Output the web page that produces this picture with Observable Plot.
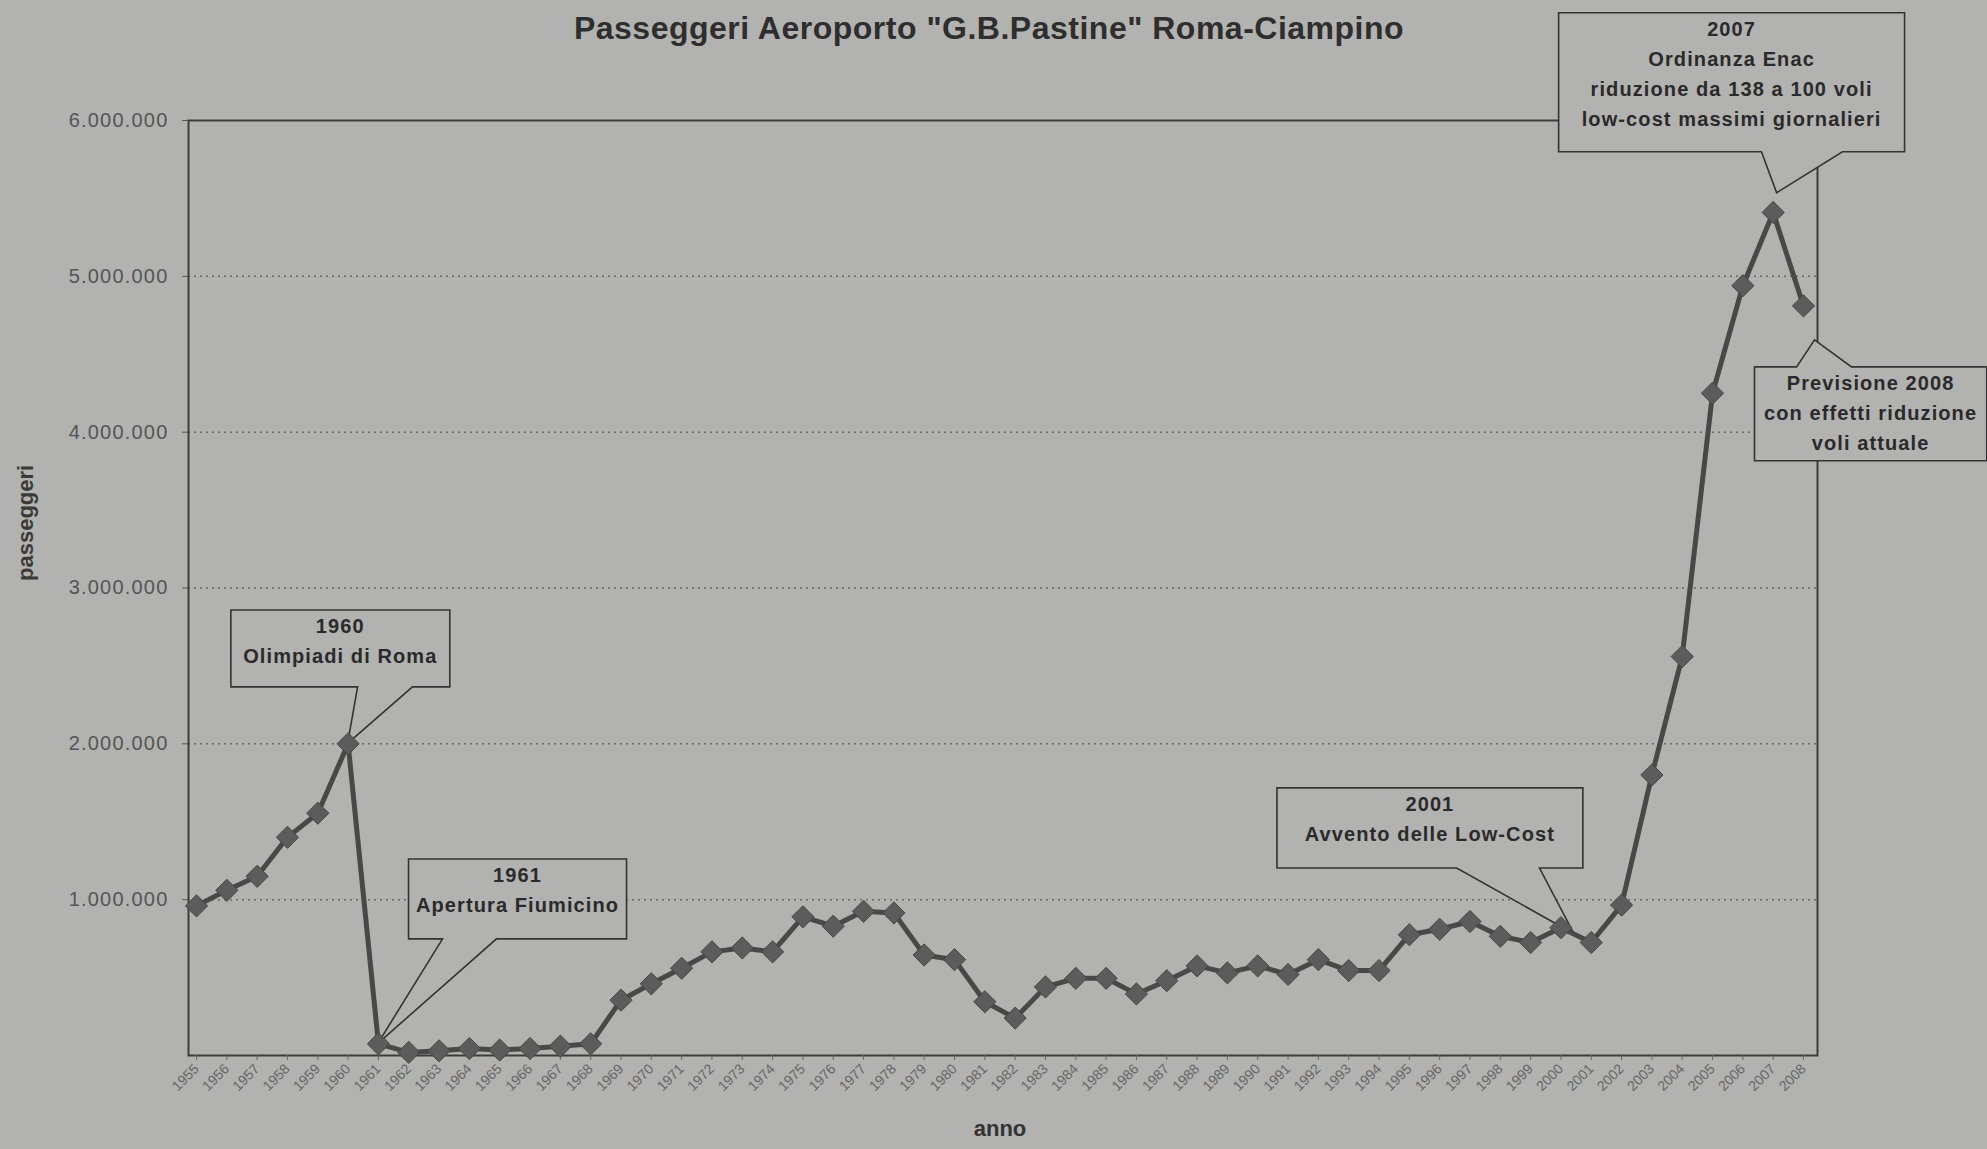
<!DOCTYPE html>
<html><head><meta charset="utf-8">
<script src="https://cdn.jsdelivr.net/npm/d3@7"></script>
<script src="https://cdn.jsdelivr.net/npm/@observablehq/plot@0.6"></script>
<style>
html,body{margin:0;padding:0;background:#b2b2b0;}
body{width:1987px;height:1149px;overflow:hidden;font-family:"Liberation Sans",Arial,sans-serif;}
#title{height:46px;box-sizing:border-box;padding-top:10px;line-height:36px;font-size:32px;font-weight:bold;text-align:center;color:#2e2e2e;letter-spacing:0.5px;padding-right:9px;white-space:nowrap;}
#chart svg g[aria-label="y-axis tick label"]{letter-spacing:1.2px;}
</style></head><body>
<div id="title">Passeggeri Aeroporto "G.B.Pastine" Roma-Ciampino</div>
<div id="chart"></div>
<script>
// ---- data ----
const years = [1955,1956,1957,1958,1959,1960,1961,1962,1963,1964,
  1965,1966,1967,1968,1969,1970,1971,1972,1973,1974,
  1975,1976,1977,1978,1979,1980,1981,1982,1983,1984,
  1985,1986,1987,1988,1989,1990,1991,1992,1993,1994,
  1995,1996,1997,1998,1999,2000,2001,2002,2003,2004,
  2005,2006,2007,2008];
const passeggeri = [960000,1060000,1150000,1400000,1555000,2000000,75000,20000,30000,45000,
  35000,45000,60000,75000,355000,460000,560000,665000,690000,665000,
  890000,830000,925000,915000,645000,615000,345000,240000,440000,495000,
  495000,395000,480000,575000,530000,575000,520000,615000,545000,545000,
  775000,810000,860000,765000,725000,820000,725000,965000,1800000,2560000,
  4250000,4940000,5410000,4810000];
const yTicks = [1000000,2000000,3000000,4000000,5000000,6000000];
const gridTicks = [1000000,2000000,3000000,4000000,5000000];
const calloutTexts = [
  ["1960","Olimpiadi di Roma"],
  ["1961","Apertura Fiumicino"],
  ["2001","Avvento delle Low-Cost"],
  ["2007","Ordinanza Enac","riduzione da 138 a 100 voli","low-cost massimi giornalieri"],
  ["Previsione 2008","con effetti riduzione","voli attuale"]
];

// ---- layout of callouts (data units) ----
const calloutLayout = [
  {box:[1956.15,1963.37,2856000,2362000], base:[1960.33,1962.14], tip:[1960,2000000], side:"bottom"},
  {box:[1962.01,1969.2,1258000,745000], base:[1963.13,1964.91], tip:[1961,75000], side:"bottom"},
  {box:[1990.65,2000.74,1714000,1200000], base:[1996.58,1999.31], tip:[2000.45,777000], side:"bottom"},
  {box:[1999.94,2011.35,6688000,5796000], base:[2006.63,2009.3], tip:[2007.13,5533000], side:"bottom"},
  {box:[2006.4,2014.06,4416000,3813000], base:[2007.79,2009.6], tip:[2008.38,4589000], side:"top"}
];

const BG = "#b2b2b0";
const data = years.map((y,i) => ({year:y, value:passeggeri[i]}));
const fmt = d3.formatLocale({decimal:",", thousands:".", grouping:[3], currency:["","€"]}).format(",.0f");

function calloutMark(index, scales) {
  const X = scales.x, Y = scales.y;
  const g = d3.create("svg:g").attr("aria-label","callouts");
  calloutLayout.forEach((c, k) => {
    const x1 = X(c.box[0]), x2 = X(c.box[1]), y1 = Y(c.box[2]), y2 = Y(c.box[3]);
    const b1 = X(c.base[0]), b2 = X(c.base[1]);
    const tx = X(c.tip[0]), ty = Y(c.tip[1]);
    const pts = c.side === "bottom"
      ? [[x1,y1],[x2,y1],[x2,y2],[b2,y2],[tx,ty],[b1,y2],[x1,y2]]
      : [[x1,y1],[b1,y1],[tx,ty],[b2,y1],[x2,y1],[x2,y2],[x1,y2]];
    g.append("path").attr("d","M"+pts.map(p=>p.join(",")).join("L")+"Z")
      .attr("fill",BG).attr("stroke","#333").attr("stroke-width",1.6).attr("stroke-linejoin","miter");
    calloutTexts[k].forEach((t,i) => {
      g.append("text").attr("x",(x1+x2)/2).attr("y",y1+16+i*30)
        .attr("text-anchor","middle").attr("dominant-baseline","central")
        .attr("font-family","Liberation Sans, Arial, sans-serif").attr("font-size",20)
        .attr("font-weight","bold").attr("letter-spacing","1.1px").attr("fill","#2a2a2a").text(t);
    });
  });
  return g.node();
}

const plot = Plot.plot({
  width: 1987, height: 1103,
  marginTop: 74, marginBottom: 94, marginLeft: 188, marginRight: 170,
  style: {background: "transparent", overflow: "visible", fontFamily: "Liberation Sans, Arial, sans-serif"},
  x: {type: "linear", domain: [1955, 2008], insetLeft: 8, insetRight: 14},
  y: {domain: [0, 6000000]},
  marks: [
    Plot.gridY(gridTicks, {stroke: "#6a6a6a", strokeOpacity: 1, strokeDasharray: "2,4", strokeWidth: 1.5}),
    Plot.frame({stroke: "#3c3c3c", strokeWidth: 2}),
    Plot.axisY(yTicks, {tickSize: 6, tickPadding: 14, tickFormat: fmt, fontSize: 20, color: "#555", label: null}),
    Plot.axisX(years, {tickSize: 5, tickPadding: 6, tickRotate: -45, tickFormat: d => String(d), fontSize: 14, color: "#666", label: null}),
    calloutMark,
    Plot.line(data, {x: "year", y: "value", stroke: "#484848", strokeWidth: 5, strokeLinejoin: "round"}),
    Plot.dot(data, {x: "year", y: "value", symbol: "diamond2", r: 10, fill: "#5c5c5c", stroke: "#464646", strokeWidth: 1}),
    Plot.text(["passeggeri"], {text: d => d, frameAnchor: "left", dx: -163, dy: -7, rotate: -90, fontSize: 22, fontWeight: "bold", fill: "#3a3a3a"}),
    Plot.text(["anno"], {text: d => d, frameAnchor: "bottom", dx: -3, dy: 80, fontSize: 22, fontWeight: "bold", fill: "#333"})
  ]
});
document.getElementById("chart").appendChild(plot);
</script>
</body></html>
